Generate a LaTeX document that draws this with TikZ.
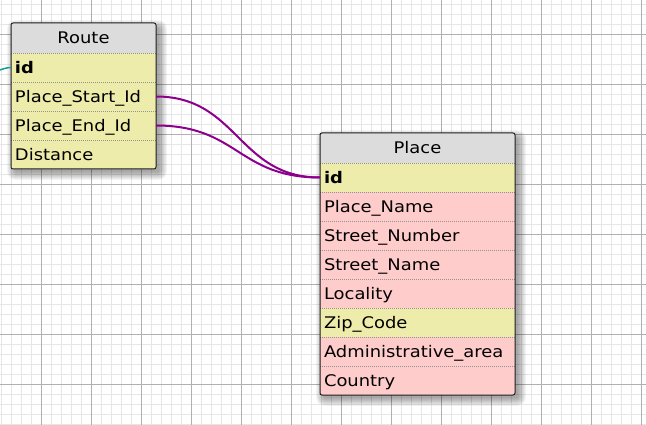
\documentclass[tikz,border=0pt]{standalone}
\usepackage{fontspec}
\setmainfont{DejaVu Sans}[FakeStretch=1.12]
\definecolor{hdr}{HTML}{DCDCDC}
\definecolor{keyy}{HTML}{EEECAA}
\definecolor{pinkp}{HTML}{FFCCCC}
\definecolor{bordc}{HTML}{1E1E1E}
\definecolor{txtc}{HTML}{000000}
\definecolor{relc}{HTML}{8C008C}
\definecolor{tealc}{HTML}{139A9A}
\definecolor{gridmin}{HTML}{E6E6E6}
\definecolor{gridmaj}{HTML}{B0B0B0}
\begin{document}
\begin{tikzpicture}[x=1pt,y=-1pt,
  font=\fontsize{16}{19}\selectfont,
  every node/.style={text=txtc, outer sep=0pt},
  cell/.style={anchor=north west, minimum height=29pt, inner xsep=4pt, inner ysep=0pt,
    text height=11.7pt, text depth=0pt, align=left},
  rcell/.style={cell, text width=137pt},
  pcell/.style={cell, text width=187pt},
  yel/.style={fill=keyy},
  pnk/.style={fill=pinkp},
  hdrcell/.style={anchor=north west, fill=hdr, minimum height=30pt, inner sep=0pt,
    text height=11.7pt, text depth=0pt},
  sepline/.style={draw=gray!85, line width=0.8pt, dash pattern=on 1pt off 1pt},
  border/.style={draw=bordc, line width=1pt, rounded corners=2pt},
  shadelayer/.style={fill=black, fill opacity=0.045},
  rel/.style={draw=relc, line width=2pt},
  minorl/.style={draw=gridmin, line width=0.9pt},
  majorl/.style={draw=gridmaj, line width=1pt}
]
\useasboundingbox (0,0) rectangle (646,425);
\fill[white] (0,0) rectangle (646,425);
% grid
\foreach \x in {1.5,11.5,...,641.5} \draw[minorl] (\x,0) -- (\x,425);
\foreach \y in {4.5,14.5,...,424.5} \draw[minorl] (0,\y) -- (646,\y);
\foreach \x in {41.5,91.5,...,641.5} \draw[majorl] (\x,0) -- (\x,425);
\foreach \y in {34.5,84.5,...,384.5} \draw[majorl] (0,\y) -- (646,\y);

% soft shadows (stacked translucent layers)
\foreach \r in {1,...,9} {
  \fill[shadelayer, rounded corners=\r pt] (14-\r+2,27-\r+2) rectangle (160+\r-2,173+\r-2);
  \fill[shadelayer, rounded corners=\r pt] (323-\r+2,137-\r+2) rectangle (519+\r-2,399+\r-2);
}

% Route table
\node[hdrcell, minimum width=145pt] (rt) at (11,23) {Route};
\node[rcell, yel] (rid) at (11,53) {\textbf{id}};
\node[rcell, yel] (rstart) at (11,82) {Place\_Start\_Id};
\node[rcell, yel] (rend) at (11,111) {Place\_End\_Id};
\node[rcell, yel] (rdist) at (11,140) {Distance};
\foreach \n in {rid,rstart,rend,rdist} \draw[sepline] (\n.north west) -- (\n.north east);
\draw[border] (rt.north west) rectangle (rdist.south east);

% Place table
\node[hdrcell, minimum width=195pt] (pt) at (320,133) {Place};
\node[pcell, yel] (pid) at (320,163) {\textbf{id}};
\node[pcell, pnk] (pname) at (320,192) {Place\_Name};
\node[pcell, pnk] (pnum) at (320,221) {Street\_Number};
\node[pcell, pnk] (pstreet) at (320,250) {Street\_Name};
\node[pcell, pnk] (ploc) at (320,279) {Locality};
\node[pcell, yel] (pzip) at (320,308) {Zip\_Code};
\node[pcell, pnk] (padm) at (320,337) {Administrative\_area};
\node[pcell, pnk] (pcountry) at (320,366) {Country};
\foreach \n in {pid,pname,pnum,pstreet,ploc,pzip,padm,pcountry} \draw[sepline] (\n.north west) -- (\n.north east);
\draw[border] (pt.north west) rectangle (pcountry.south east);

% connectors
\draw[rel] (rstart.east) .. controls +(82,0) and +(-82,0) .. (pid.west);
\draw[rel] (rend.east) .. controls +(82,0) and +(-82,0) .. (pid.west);
\coordinate (tealfree) at (-4,71);
\draw[draw=tealc, line width=1.5pt] (tealfree) .. controls (4,69) and (6,67.5) .. (rid.west);
\end{tikzpicture}
\end{document}
